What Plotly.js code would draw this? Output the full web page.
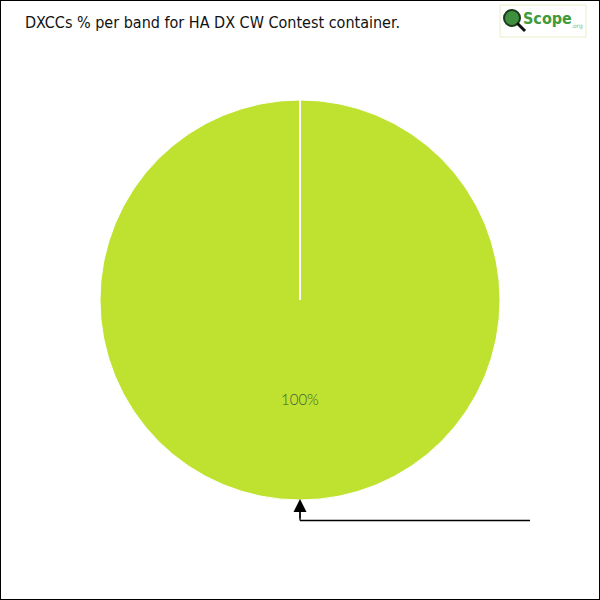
<!DOCTYPE html>
<html>
<head>
<meta charset="utf-8">
<script src="https://cdn.plot.ly/plotly-3.0.1.min.js"></script>
<style>html,body{margin:0;padding:0;background:#fff}#chart{width:600px;height:600px}</style>
</head>
<body>
<div id="chart"></div>
<script>
// Bands and the share of DXCCs worked on each
const bands = ["20m"];
const shares = [100];
const sliceColors = ["#bee22f"];
const chartTitle = "DXCCs % per band for HA DX CW Contest container.";

const total = shares.reduce((a, b) => a + b, 0);
const pctLabel = Math.round(shares[0] / total * 100) + "%";

const trace = {
  type: "pie",
  labels: bands,
  values: shares,
  sort: false,
  direction: "clockwise",
  rotation: 0,
  textinfo: "none",
  hoverinfo: "label+percent",
  marker: {colors: sliceColors, line: {color: "#ffffff", width: 1}},
  domain: {x: [100/600, 500/600], y: [100/600, 500/600]},
  showlegend: false
};

const layout = {
  width: 600, height: 600,
  margin: {l: 0, r: 0, t: 0, b: 0},
  paper_bgcolor: "#ffffff",
  showlegend: false,
  title: {
    text: chartTitle,
    x: 25/600, xanchor: "left", xref: "paper",
    y: 1 - 22/600, yanchor: "middle", yref: "paper",
    font: {family: "DejaVu Sans Condensed", size: 16, color: "#111111", stretch: "condensed"}
  },
  shapes: [
    // outer frame
    {type: "rect", xref: "paper", yref: "paper", x0: 0, x1: 1, y0: 0, y1: 1,
     line: {color: "#000000", width: 2}},
    // slice edge from the top of the pie to its centre
    {type: "line", xref: "paper", yref: "paper", x0: 0.5, x1: 0.5, y0: 0.5, y1: 500/600,
     line: {color: "#ffffff", width: 2}},
    // leader line for the slice label
    {type: "line", xref: "paper", yref: "paper", x0: 300/600, x1: 530/600, y0: 1 - 520.5/600, y1: 1 - 520.5/600,
     line: {color: "#000000", width: 1.3}},
    {type: "line", xref: "paper", yref: "paper", x0: 300/600, x1: 300/600, y0: 1 - 520.5/600, y1: 1 - 505/600,
     line: {color: "#000000", width: 1.3}},
    // logo box
    {type: "rect", xref: "paper", yref: "paper", x0: 500/600, x1: 586/600, y0: 1 - 37/600, y1: 1 - 5/600,
     line: {color: "#e6efc8", width: 1}, fillcolor: "#ffffff"},
    {type: "circle", xref: "paper", yref: "paper", x0: 504/600, x1: 520/600, y0: 1 - 26/600, y1: 1 - 10/600,
     line: {color: "#1c3a1c", width: 2}, fillcolor: "#3f8f3f"},
    {type: "line", xref: "paper", yref: "paper", x0: 517/600, x1: 525/600, y0: 1 - 23/600, y1: 1 - 31/600,
     line: {color: "#111111", width: 3}}
  ],
  annotations: [
    {text: pctLabel, xref: "paper", yref: "paper", x: 0.5, y: 1 - 399/600,
     showarrow: false, xanchor: "center", yanchor: "middle",
     font: {family: "Lato", size: 15, color: "#3f5e3a", weight: 300}},
    {text: "", xref: "paper", yref: "paper", x: 300/600, y: 1 - 499/600,
     ax: 300/600, ay: 1 - 520/600, axref: "paper", ayref: "paper",
     showarrow: true, arrowhead: 2, arrowsize: 2, arrowwidth: 1.3, arrowcolor: "#000000"},
    {text: "Scope", xref: "paper", yref: "paper", x: 521/600, y: 1 - 19/600,
     showarrow: false, xanchor: "left", yanchor: "middle",
     font: {family: "DejaVu Sans Condensed", size: 16, color: "#3f9a3a", weight: 700, stretch: "condensed"}},
    {text: ".org", xref: "paper", yref: "paper", x: 585/600, y: 1 - 26/600,
     showarrow: false, xanchor: "right", yanchor: "middle",
     font: {family: "DejaVu Sans", size: 6, color: "#8cc06a"}}
  ]
};

Plotly.newPlot("chart", [trace], layout, {staticPlot: true, displayModeBar: false});
</script>
</body>
</html>
